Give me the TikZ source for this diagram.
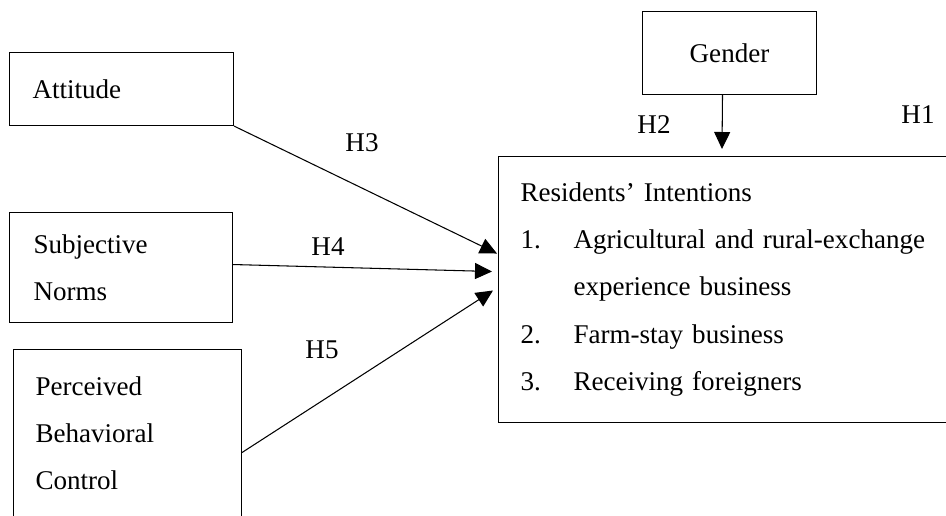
\documentclass[tikz,border=0pt]{standalone}
\usepackage{fontspec}
\setmainfont{Liberation Serif}
\usetikzlibrary{arrows.meta}

\begin{document}
\begin{tikzpicture}[x=0.02cm,y=-0.02cm,>={Triangle[length=0.34cm,width=0.32cm]}]
		\tikzstyle{BOX} = [draw, line width=0.6pt, anchor=north west, align=left, inner ysep=0pt, font=\fontsize{15.4}{26.8}\selectfont]
		\tikzstyle{hyp} = [inner sep=0pt, font=\fontsize{15.4}{18}\selectfont]
		\tikzstyle{link} = [->, line width=0.6pt]
		\useasboundingbox (0,0) rectangle (946,515);

		\node[BOX, text width=3.56cm, inner xsep=0.46cm, minimum height=1.46cm] (att) at (9,52) {Attitude};
		\node[BOX, text width=3.5cm, inner xsep=0.48cm, minimum height=2.2cm] (sn) at (9,212) {Subjective\\Norms};
		\node[BOX, text width=3.68cm, inner xsep=0.44cm, minimum height=3.36cm] (pbc) at (13,349) {Perceived\\Behavioral\\Control};
		\node[BOX, align=center, text width=2.24cm, inner xsep=0.62cm, minimum height=1.66cm] (gen) at (642,11) {Gender};
		\node[BOX, text width=9cm, inner xsep=0.44cm, minimum height=5.32cm] (res) at (498,156) {Residents’ Intentions\\
			\makebox[1.06cm][l]{1.}Agricultural and rural-exchange\\
			\hspace*{1.06cm}experience business\\
			\makebox[1.06cm][l]{2.}Farm-stay business\\
			\makebox[1.06cm][l]{3.}Receiving foreigners};

		\node[hyp] (hOne) at (918,115) {H1};
		\node[hyp] (hTwo) at (654,125) {H2};
		\node[hyp] (hThree) at (362,143) {H3};
		\node[hyp] (hFour) at (328,247) {H4};
		\node[hyp] (hFive) at (322,350) {H5};

		\coordinate (gTip) at (722,149);
		\draw[link] ([xshift=-0.14cm]gen.south) -- (gTip);
		\draw[link] (att.south east) -- ([xshift=-0.02cm,yshift=0.72cm]res.west);
		\draw[link] ([yshift=0.06cm]sn.east) -- ([xshift=-0.12cm,yshift=0.36cm]res.west);
		\draw[link] ([yshift=-0.38cm]pbc.east) -- ([xshift=-0.1cm,yshift=-0.02cm]res.west);
\end{tikzpicture}
\end{document}
